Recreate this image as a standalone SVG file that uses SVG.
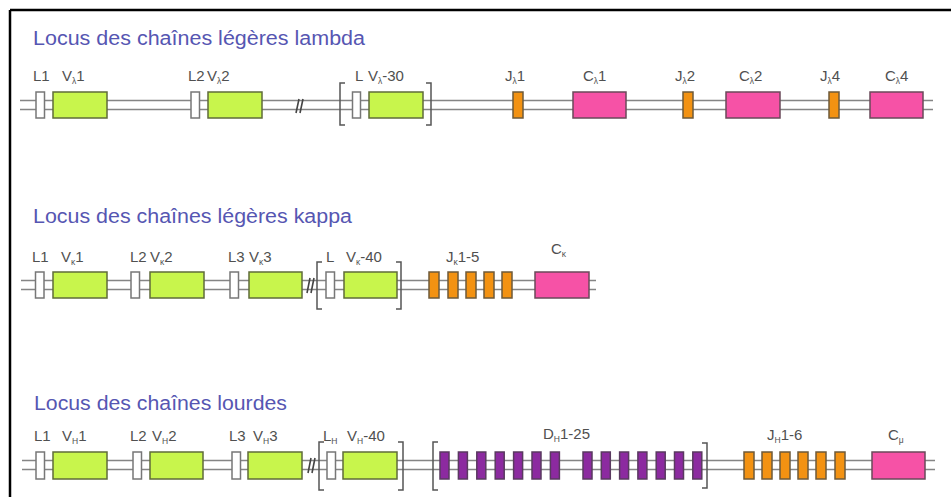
<svg xmlns="http://www.w3.org/2000/svg" width="951" height="497" viewBox="0 0 951 497">
<style>
.title{font-family:"Liberation Sans",Arial,sans-serif;font-size:20px;fill:#5656b2}
.lbl{font-family:"Liberation Sans",Arial,sans-serif;font-size:15px;fill:#505050}
.sub{font-size:8.5px}
.dna{stroke:#858585;stroke-width:1.7;fill:none}
.w{fill:#fff;stroke:#777;stroke-width:1.5}
.g{fill:#c8f54c;stroke:#5f6b3a;stroke-width:1.5}
.p{fill:#f652a6;stroke:#6a4a5a;stroke-width:1.5}
.o{fill:#f39212;stroke:#6e5a3a;stroke-width:1.5}
.u{fill:#8c2aa0;stroke:#5a3a60;stroke-width:1.5}
.br{fill:none;stroke:#555;stroke-width:1.5}
.brk{stroke:#444;stroke-width:1.6}
</style>
<rect x="0" y="0" width="951" height="497" fill="#fff"/>
<path d="M10 10 H951 M10 10 V497" stroke="#000" stroke-width="2.5" fill="none"/>

<g id="connectors">
  <path class="dna" d="M20 100.5 H933 M20 109.5 H933"/>
  <path class="dna" d="M21 280.5 H596 M21 289.5 H596"/>
  <path class="dna" d="M22 460.5 H935 M22 469.5 H935"/>
</g>

<!-- Titles -->
<text class="title" x="33" y="45" textLength="332" lengthAdjust="spacingAndGlyphs">Locus des chaînes légères lambda</text>
<text class="title" x="33" y="223" textLength="319" lengthAdjust="spacingAndGlyphs">Locus des chaînes légères kappa</text>
<text class="title" x="34" y="410" textLength="253" lengthAdjust="spacingAndGlyphs">Locus des chaînes lourdes</text>

<!-- Row 1: lambda -->
<g id="lambda-L1"><rect class="w" x="36" y="92" width="8.5" height="26"/><text class="lbl" x="33" y="81">L1</text></g>
<g id="lambda-V1"><rect class="g" x="53" y="92" width="54" height="26"/><text class="lbl" x="62" y="81">V<tspan class="sub" dy="3">λ</tspan><tspan dy="-3">1</tspan></text></g>
<g id="lambda-L2"><rect class="w" x="191" y="92" width="8.5" height="26"/><text class="lbl" x="188" y="81">L2</text></g>
<g id="lambda-V2"><rect class="g" x="208" y="92" width="54" height="26"/><text class="lbl" x="207" y="81">V<tspan class="sub" dy="3">λ</tspan><tspan dy="-3">2</tspan></text></g>
<g id="lambda-break"><path class="brk" d="M296 113 L299 99 M300 113 L303 99"/></g>
<g id="lambda-L30"><rect class="w" x="352.5" y="92" width="8" height="26"/><text class="lbl" x="355" y="81">L</text></g>
<g id="lambda-V30"><rect class="g" x="369" y="92" width="54" height="26"/><text class="lbl" x="368" y="81">V<tspan class="sub" dy="3">λ</tspan><tspan dy="-3">-30</tspan></text>
  <path class="br" d="M345 83 H340 V125 H345 M426 83 H431 V125 H426"/></g>
<g id="lambda-J1"><rect class="o" x="513" y="92" width="10" height="26"/><text class="lbl" x="505" y="81">J<tspan class="sub" dy="3">λ</tspan><tspan dy="-3">1</tspan></text></g>
<g id="lambda-C1"><rect class="p" x="573" y="92" width="53" height="26"/><text class="lbl" x="583" y="81">C<tspan class="sub" dy="3">λ</tspan><tspan dy="-3">1</tspan></text></g>
<g id="lambda-J2"><rect class="o" x="683" y="92" width="10" height="26"/><text class="lbl" x="675" y="81">J<tspan class="sub" dy="3">λ</tspan><tspan dy="-3">2</tspan></text></g>
<g id="lambda-C2"><rect class="p" x="726" y="92" width="54" height="26"/><text class="lbl" x="739" y="81">C<tspan class="sub" dy="3">λ</tspan><tspan dy="-3">2</tspan></text></g>
<g id="lambda-J4"><rect class="o" x="829" y="92" width="10" height="26"/><text class="lbl" x="820" y="81">J<tspan class="sub" dy="3">λ</tspan><tspan dy="-3">4</tspan></text></g>
<g id="lambda-C4"><rect class="p" x="870" y="92" width="53" height="26"/><text class="lbl" x="885" y="81">C<tspan class="sub" dy="3">λ</tspan><tspan dy="-3">4</tspan></text></g>

<!-- Row 2: kappa -->
<g id="kappa-L1"><rect class="w" x="35.5" y="272" width="8.5" height="26"/><text class="lbl" x="32" y="262">L1</text></g>
<g id="kappa-V1"><rect class="g" x="53" y="272" width="54" height="26"/><text class="lbl" x="61" y="262">V<tspan class="sub" dy="3">κ</tspan><tspan dy="-3">1</tspan></text></g>
<g id="kappa-L2"><rect class="w" x="131" y="272" width="8.5" height="26"/><text class="lbl" x="130" y="262">L2</text></g>
<g id="kappa-V2"><rect class="g" x="150" y="272" width="54" height="26"/><text class="lbl" x="150" y="262">V<tspan class="sub" dy="3">κ</tspan><tspan dy="-3">2</tspan></text></g>
<g id="kappa-L3"><rect class="w" x="230" y="272" width="8.5" height="26"/><text class="lbl" x="228" y="262">L3</text></g>
<g id="kappa-V3"><rect class="g" x="249" y="272" width="53" height="26"/><text class="lbl" x="249" y="262">V<tspan class="sub" dy="3">κ</tspan><tspan dy="-3">3</tspan></text></g>
<g id="kappa-break"><path class="brk" d="M307 293 L310 278 M311 293 L314 278"/></g>
<g id="kappa-L40"><rect class="w" x="326" y="272" width="8.5" height="26"/><text class="lbl" x="326" y="262">L</text></g>
<g id="kappa-V40"><rect class="g" x="344" y="272" width="53" height="26"/><text class="lbl" x="346" y="262">V<tspan class="sub" dy="3">κ</tspan><tspan dy="-3">-40</tspan></text>
  <path class="br" d="M322 262 H317 V309 H322 M396 262 H401 V309 H396"/></g>
<g id="kappa-J"><rect class="o" x="429" y="272" width="10" height="26"/><rect class="o" x="448" y="272" width="10" height="26"/><rect class="o" x="466" y="272" width="10" height="26"/><rect class="o" x="484" y="272" width="10" height="26"/><rect class="o" x="502" y="272" width="10" height="26"/><text class="lbl" x="446" y="262">J<tspan class="sub" dy="3">κ</tspan><tspan dy="-3">1-5</tspan></text></g>
<g id="kappa-C"><rect class="p" x="535" y="272" width="54" height="26"/><text class="lbl" x="551" y="254">C<tspan class="sub" dy="3">κ</tspan></text></g>

<!-- Row 3: heavy -->
<g id="heavy-L1"><rect class="w" x="36" y="452" width="8.5" height="27"/><text class="lbl" x="34" y="441">L1</text></g>
<g id="heavy-V1"><rect class="g" x="53" y="452" width="54" height="27"/><text class="lbl" x="62" y="441">V<tspan class="sub" dy="3">H</tspan><tspan dy="-3">1</tspan></text></g>
<g id="heavy-L2"><rect class="w" x="133" y="452" width="8.5" height="27"/><text class="lbl" x="130" y="441">L2</text></g>
<g id="heavy-V2"><rect class="g" x="150" y="452" width="53" height="27"/><text class="lbl" x="152" y="441">V<tspan class="sub" dy="3">H</tspan><tspan dy="-3">2</tspan></text></g>
<g id="heavy-L3"><rect class="w" x="232" y="452" width="8.5" height="27"/><text class="lbl" x="229" y="441">L3</text></g>
<g id="heavy-V3"><rect class="g" x="248" y="452" width="54" height="27"/><text class="lbl" x="253" y="441">V<tspan class="sub" dy="3">H</tspan><tspan dy="-3">3</tspan></text></g>
<g id="heavy-break"><path class="brk" d="M308 473 L311 458 M312 473 L315 458"/></g>
<g id="heavy-L40"><rect class="w" x="327" y="452" width="8.5" height="27"/><text class="lbl" x="323" y="441">L<tspan class="sub" dy="3">H</tspan></text></g>
<g id="heavy-V40"><rect class="g" x="343" y="452" width="54" height="27"/><text class="lbl" x="347" y="441">V<tspan class="sub" dy="3">H</tspan><tspan dy="-3">-40</tspan></text>
  <path class="br" d="M324 442 H319 V490 H324 M398 442 H403 V490 H398"/></g>
<g id="heavy-D">
  <path class="br" d="M438 442 H433 V490 H438 M702 443 H707 V488 H702"/>
  <rect class="u" x="440" y="452" width="9" height="27"/><rect class="u" x="458.4" y="452" width="9" height="27"/><rect class="u" x="476.8" y="452" width="9" height="27"/><rect class="u" x="495.2" y="452" width="9" height="27"/><rect class="u" x="513.6" y="452" width="9" height="27"/><rect class="u" x="532" y="452" width="9" height="27"/><rect class="u" x="550.4" y="452" width="9" height="27"/>
  <rect class="u" x="583" y="452" width="9" height="27"/><rect class="u" x="601.3" y="452" width="9" height="27"/><rect class="u" x="619.6" y="452" width="9" height="27"/><rect class="u" x="637.9" y="452" width="9" height="27"/><rect class="u" x="656.2" y="452" width="9" height="27"/><rect class="u" x="674.5" y="452" width="9" height="27"/><rect class="u" x="692.8" y="452" width="9" height="27"/>
  <text class="lbl" x="543" y="439">D<tspan class="sub" dy="3">H</tspan><tspan dy="-3">1-25</tspan></text></g>
<g id="heavy-J">
  <rect class="o" x="744" y="452" width="10" height="27"/><rect class="o" x="762" y="452" width="10" height="27"/><rect class="o" x="780" y="452" width="10" height="27"/><rect class="o" x="798" y="452" width="10" height="27"/><rect class="o" x="816" y="452" width="10" height="27"/><rect class="o" x="835" y="452" width="10" height="27"/>
  <text class="lbl" x="767" y="440">J<tspan class="sub" dy="3">H</tspan><tspan dy="-3">1-6</tspan></text></g>
<g id="heavy-C"><rect class="p" x="872" y="452" width="53" height="27"/><text class="lbl" x="888" y="440">C<tspan class="sub" dy="3">μ</tspan></text></g>
</svg>
